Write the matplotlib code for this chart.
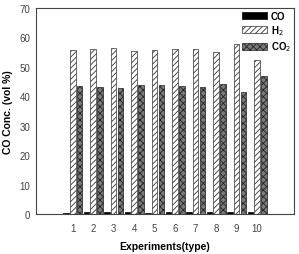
import matplotlib
matplotlib.use("Agg")
import matplotlib.pyplot as plt
import numpy as np

experiments = [1, 2, 3, 4, 5, 6, 7, 8, 9, 10]
co = [0.6, 0.9, 0.9, 0.7, 0.4, 0.8, 1.0, 0.9, 0.9, 0.8]
h2 = [55.8, 56.0, 56.3, 55.5, 55.9, 56.1, 56.1, 55.0, 57.9, 52.2]
co2 = [43.7, 43.1, 42.8, 44.0, 43.9, 43.5, 43.2, 44.3, 41.4, 46.8]
yticks = [0, 10, 20, 30, 40, 50, 60, 70]

plt.rcParams['font.family'] = ['Liberation Sans', 'DejaVu Sans']
plt.rcParams['hatch.linewidth'] = 0.6

fig = plt.figure(figsize=(2.99, 2.55), dpi=100)
ax = fig.add_axes([0.120, 0.155, 0.863, 0.810])

x = np.array(experiments, dtype=float)
w = 0.27
off = 0.33
ax.bar(x - off, co, w, color='black', edgecolor='black', linewidth=0.5, label='CO')
ax.bar(x, h2, w, color='white', edgecolor='#333333', hatch='//////', linewidth=0.5, label='H$_2$')
ax.bar(x + off, co2, w, color='#7a7a7a', edgecolor='#222222', hatch='xxxxx', linewidth=0.5, label='CO$_2$')

ax.set_xlim(-0.8, 11.8)
ax.set_ylim(0, 70)
ax.set_yticks(yticks)
ax.set_xticks(experiments)
ax.tick_params(axis='both', length=0, labelsize=7, labelcolor='#444444', pad=4)
ax.tick_params(axis='x', pad=6)
for s in ax.spines.values():
    s.set_linewidth(0.8)
    s.set_color('#444444')

ax.set_xlabel('Experiments(type)', fontsize=7.5, fontweight='bold', labelpad=6)
ax.set_ylabel('CO Conc. (vol %)', fontsize=7.5, fontweight='bold', labelpad=5)

leg = ax.legend(loc='upper right', frameon=False, fontsize=7, handlelength=2.6,
                handleheight=0.7, labelspacing=0.25, borderaxespad=0.0, borderpad=0.3,
                handletextpad=0.4)
for t in leg.get_texts():
    t.set_fontweight('bold')

fig.savefig('out.png', dpi=100)
